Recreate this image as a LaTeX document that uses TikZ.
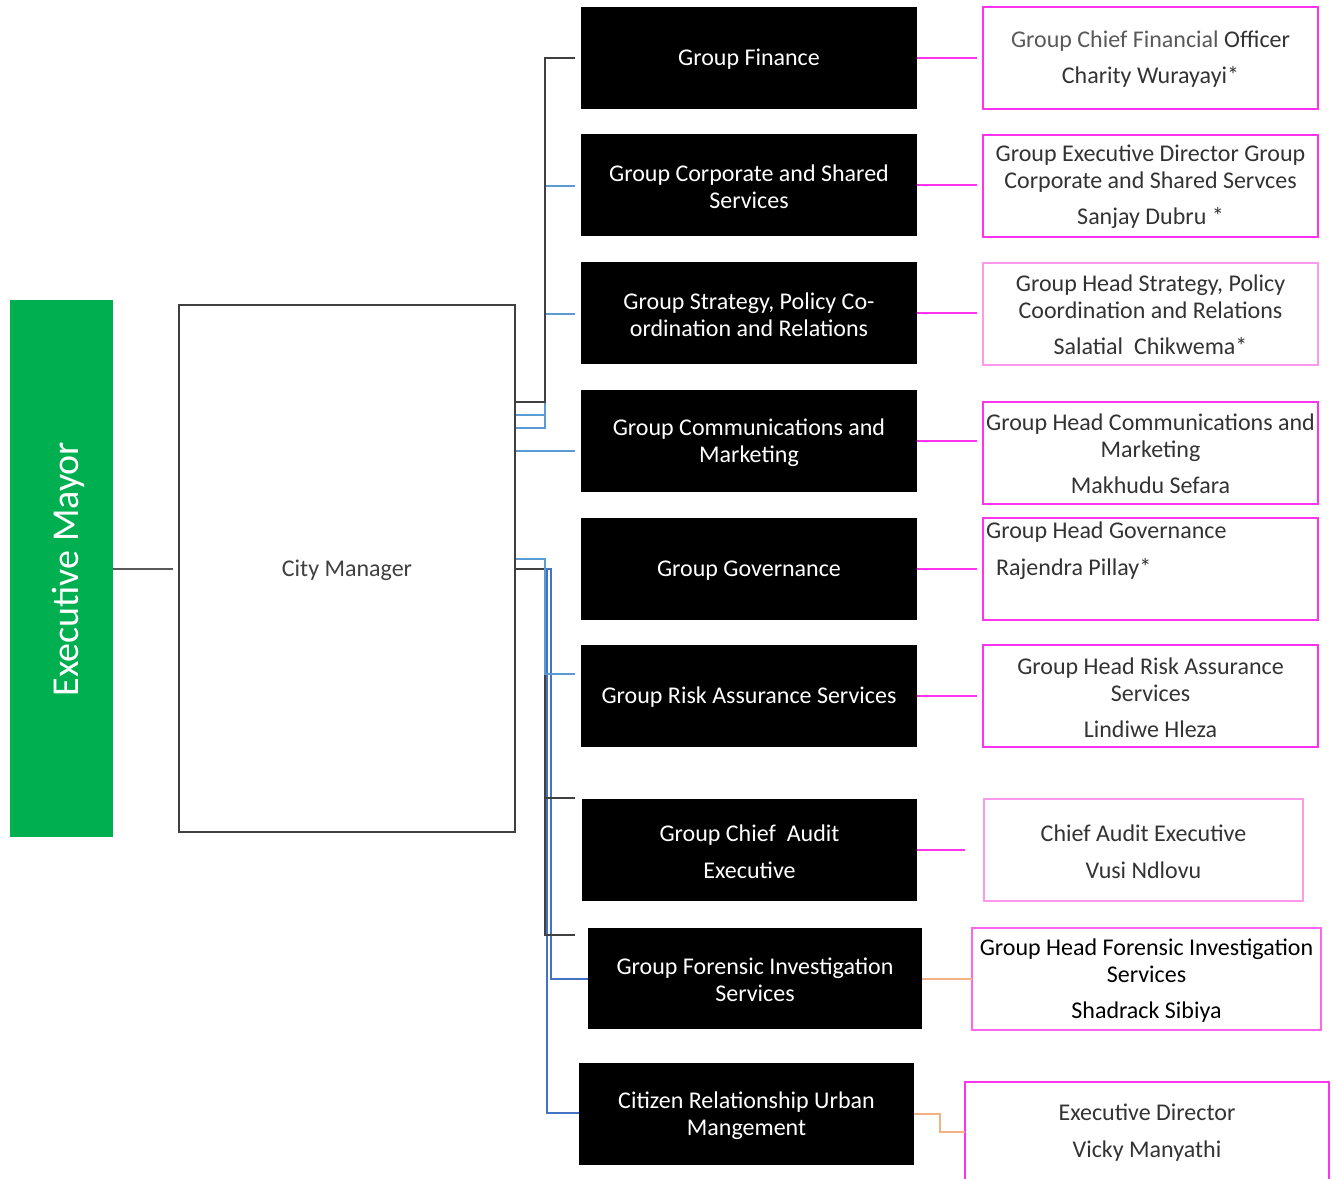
\documentclass[tikz,border=0pt]{standalone}
\usepackage{fontspec}
\setmainfont{Carlito}
\definecolor{mgreen}{HTML}{00B050}
\definecolor{dgray}{HTML}{404040}
\definecolor{lgray}{HTML}{595959}
\definecolor{lblue}{HTML}{5B9BD5}
\definecolor{mblue}{HTML}{4472C4}
\definecolor{mag}{HTML}{FF33EE}
\definecolor{lmag}{HTML}{FF99EE}
\definecolor{pmag}{HTML}{FF66EE}
\definecolor{orng}{HTML}{F4B183}
\definecolor{txt}{HTML}{333333}
\begin{document}
\begin{tikzpicture}[x=1pt,y=-1pt,
  mainfont/.style={font=\fontsize{24}{27}\selectfont},
  bbox/.style={fill=black,minimum width=336pt,minimum height=102pt,inner sep=0pt},
  btxt/.style={mainfont,text=white,align=center,inner sep=0pt,yshift=-1.5pt},
  rbox/.style={draw=mag,line width=2pt,minimum width=335pt,minimum height=102pt,inner sep=0pt},
  rtxt/.style={mainfont,text=txt,align=center,inner sep=0pt,yshift=-1.5pt},
  gconn/.style={draw=dgray,line width=1.2pt},
  lbconn/.style={draw=lblue,line width=1.2pt},
  mbconn/.style={draw=mblue,line width=1.2pt},
  mconn/.style={draw=mag,line width=1.2pt},
  oconn/.style={draw=orng,line width=1.2pt}]
\useasboundingbox (0,0) rectangle (1333,1178);
\fill[white] (0,0) rectangle (1333,1178);

% left boxes
\node[fill=mgreen,minimum width=103pt,minimum height=537pt,inner sep=0pt] (em) at (61.5,568.5) {};
\node[text=white,rotate=90,inner sep=0pt,font=\fontsize{38}{40}\selectfont] (emt) at (68,569) {Executive Mayor};
\node[draw=dgray,line width=1.5pt,minimum width=336pt,minimum height=527pt,inner sep=0pt] (cm) at (347,568.5) {};
\node[rtxt,text=dgray] (cmt) at (cm.center) {City Manager};
\coordinate (emend) at (173,569);
\draw[draw=lgray,line width=1.2pt] (em.east |- 0,569) -- (emend);

% black boxes
\node[bbox] (b1) at (749,58) {};
\node[btxt] (b1t) at (b1.center) {Group Finance};
\node[bbox] (b2) at (749,185) {};
\node[btxt] (b2t) at (b2.center) {Group Corporate and Shared\\Services};
\node[bbox] (b3) at (749,313) {};
\node[btxt] (b3t) at (b3.center) {Group Strategy, Policy Co-\\ordination and Relations};
\node[bbox] (b4) at (749,441) {};
\node[btxt] (b4t) at (b4.center) {Group Communications and\\Marketing};
\node[bbox] (b5) at (749,569) {};
\node[btxt] (b5t) at (b5.center) {Group Governance};
\node[bbox] (b6) at (749,696) {};
\node[btxt] (b6t) at (b6.center) {Group Risk Assurance Services};
\node[bbox,minimum width=335pt] (b7) at (749.5,850) {};
\node[btxt] (b7t) at (b7.center) {Group Chief\ \ Audit\\[10pt]Executive};
\node[bbox,minimum width=334pt,minimum height=101pt] (b8) at (755,978.5) {};
\node[btxt] (b8t) at (b8.center) {Group Forensic Investigation\\Services};
\node[bbox,minimum width=335pt] (b9) at (746.5,1114) {};
\node[btxt] (b9t) at (b9.center) {Citizen Relationship Urban\\Mangement};

% right boxes
\node[rbox] (r1) at (1150.5,58) {};
\node[rtxt] (r1t) at (r1.center) {{\color{lgray}Group Chief Financial} Officer\\[9pt]Charity Wurayayi*};
\node[rbox] (r2) at (1150.5,185.5) {};
\node[rtxt] (r2t) at (r2.center) {Group Executive Director Group\\Corporate and Shared Servces\\[9pt]Sanjay Dubru *};
\node[rbox,draw=lmag] (r3) at (1150.5,313.5) {};
\node[rtxt] (r3t) at (r3.center) {Group Head Strategy, Policy\\Coordination and Relations\\[9pt]Salatial\ \ Chikwema*};
\node[rbox] (r4) at (1150.5,452.5) {};
\node[rtxt] (r4t) at (r4.center) {Group Head Communications and\\Marketing\\[9pt]Makhudu Sefara};
\node[rbox] (r5) at (1150.5,569) {};
\node[mainfont,text=txt,anchor=west,inner sep=0pt] (r5a) at (986,532.5) {Group Head Governance};
\node[mainfont,text=txt,anchor=west,inner sep=0pt] (r5b) at (996,569.5) {Rajendra Pillay*};
\node[rbox] (r6) at (1150.5,696) {};
\node[rtxt] (r6t) at (r6.center) {Group Head Risk Assurance\\Services\\[9pt]Lindiwe Hleza};
\node[rbox,draw=lmag,minimum width=319pt] (r7) at (1143.5,850) {};
\node[rtxt] (r7t) at (r7.center) {Chief Audit Executive\\[10pt]Vusi Ndlovu};
\node[rbox,draw=pmag,minimum width=349pt] (r8) at (1146.5,979) {};
\node[rtxt,text=black] (r8t) at (r8.center) {Group Head Forensic Investigation\\Services\\[9pt]Shadrack Sibiya};
\draw[draw=mag,line width=2pt] (965,1182) |- (1329,1082) -- (1329,1182);
\node[rtxt] (r9) at (1147,1131.5) {Executive Director\\[10pt]Vicky Manyathi};

% right connectors
\coordinate (e1) at (977,58);
\coordinate (e2) at (977,185);
\coordinate (e3) at (977,313);
\coordinate (e4) at (977,441);
\coordinate (e5) at (977,569);
\coordinate (e6) at (977,696);
\coordinate (e7) at (965,850);
\coordinate (e8) at (972,979);
\coordinate (e9) at (965,1132);
\draw[mconn] (b1.east |- e1) -- (e1);
\draw[mconn] (b2.east |- e2) -- (e2);
\draw[mconn] (b3.east |- e3) -- (e3);
\draw[mconn] (b4.east |- e4) -- (e4);
\draw[mconn] (b5.east |- e5) -- (e5);
\draw[mconn] (b6.east |- e6) -- (e6);
\draw[mconn] (b7.east |- e7) -- (e7);
\draw[oconn] (b8.east |- e8) -- (e8);
\draw[oconn] (b9.east |- 0,1114) -- (940,1114) -- (940,1132) -- (e9);

% left connectors
\coordinate (c1) at (575,58);
\coordinate (c2) at (575,186);
\coordinate (c3) at (575,314);
\coordinate (c4) at (575,451);
\coordinate (c6) at (575,674);
\coordinate (c7) at (575,798);
\coordinate (c8) at (575,935);
\draw[lbconn] (cm.east |- 0,428) -- (545,428) -- (545,314) -- (c3);
\draw[lbconn] (cm.east |- 0,415) -- (545,415) -- (545,186) -- (c2);
\draw[gconn] (cm.east |- 0,402) -- (545,402) -- (545,58) -- (c1);
\draw[lbconn] (cm.east |- 0,451) -- (c4);
\draw[mbconn] (cm.east |- 0,569) -- (551,569) -- (551,979) -- (b8.west |- 0,979);
\draw[mbconn] (cm.east |- 0,569) -- (547,569) -- (547,1113) -- (b9.west |- 0,1113);
\draw[gconn] (cm.east |- 0,569) -- (545,569) -- (545,935) -- (c8);
\draw[gconn] (545,798) -- (c7);
\draw[lbconn] (cm.east |- 0,559) -- (545,559) -- (545,674) -- (c6);
\end{tikzpicture}
\end{document}
